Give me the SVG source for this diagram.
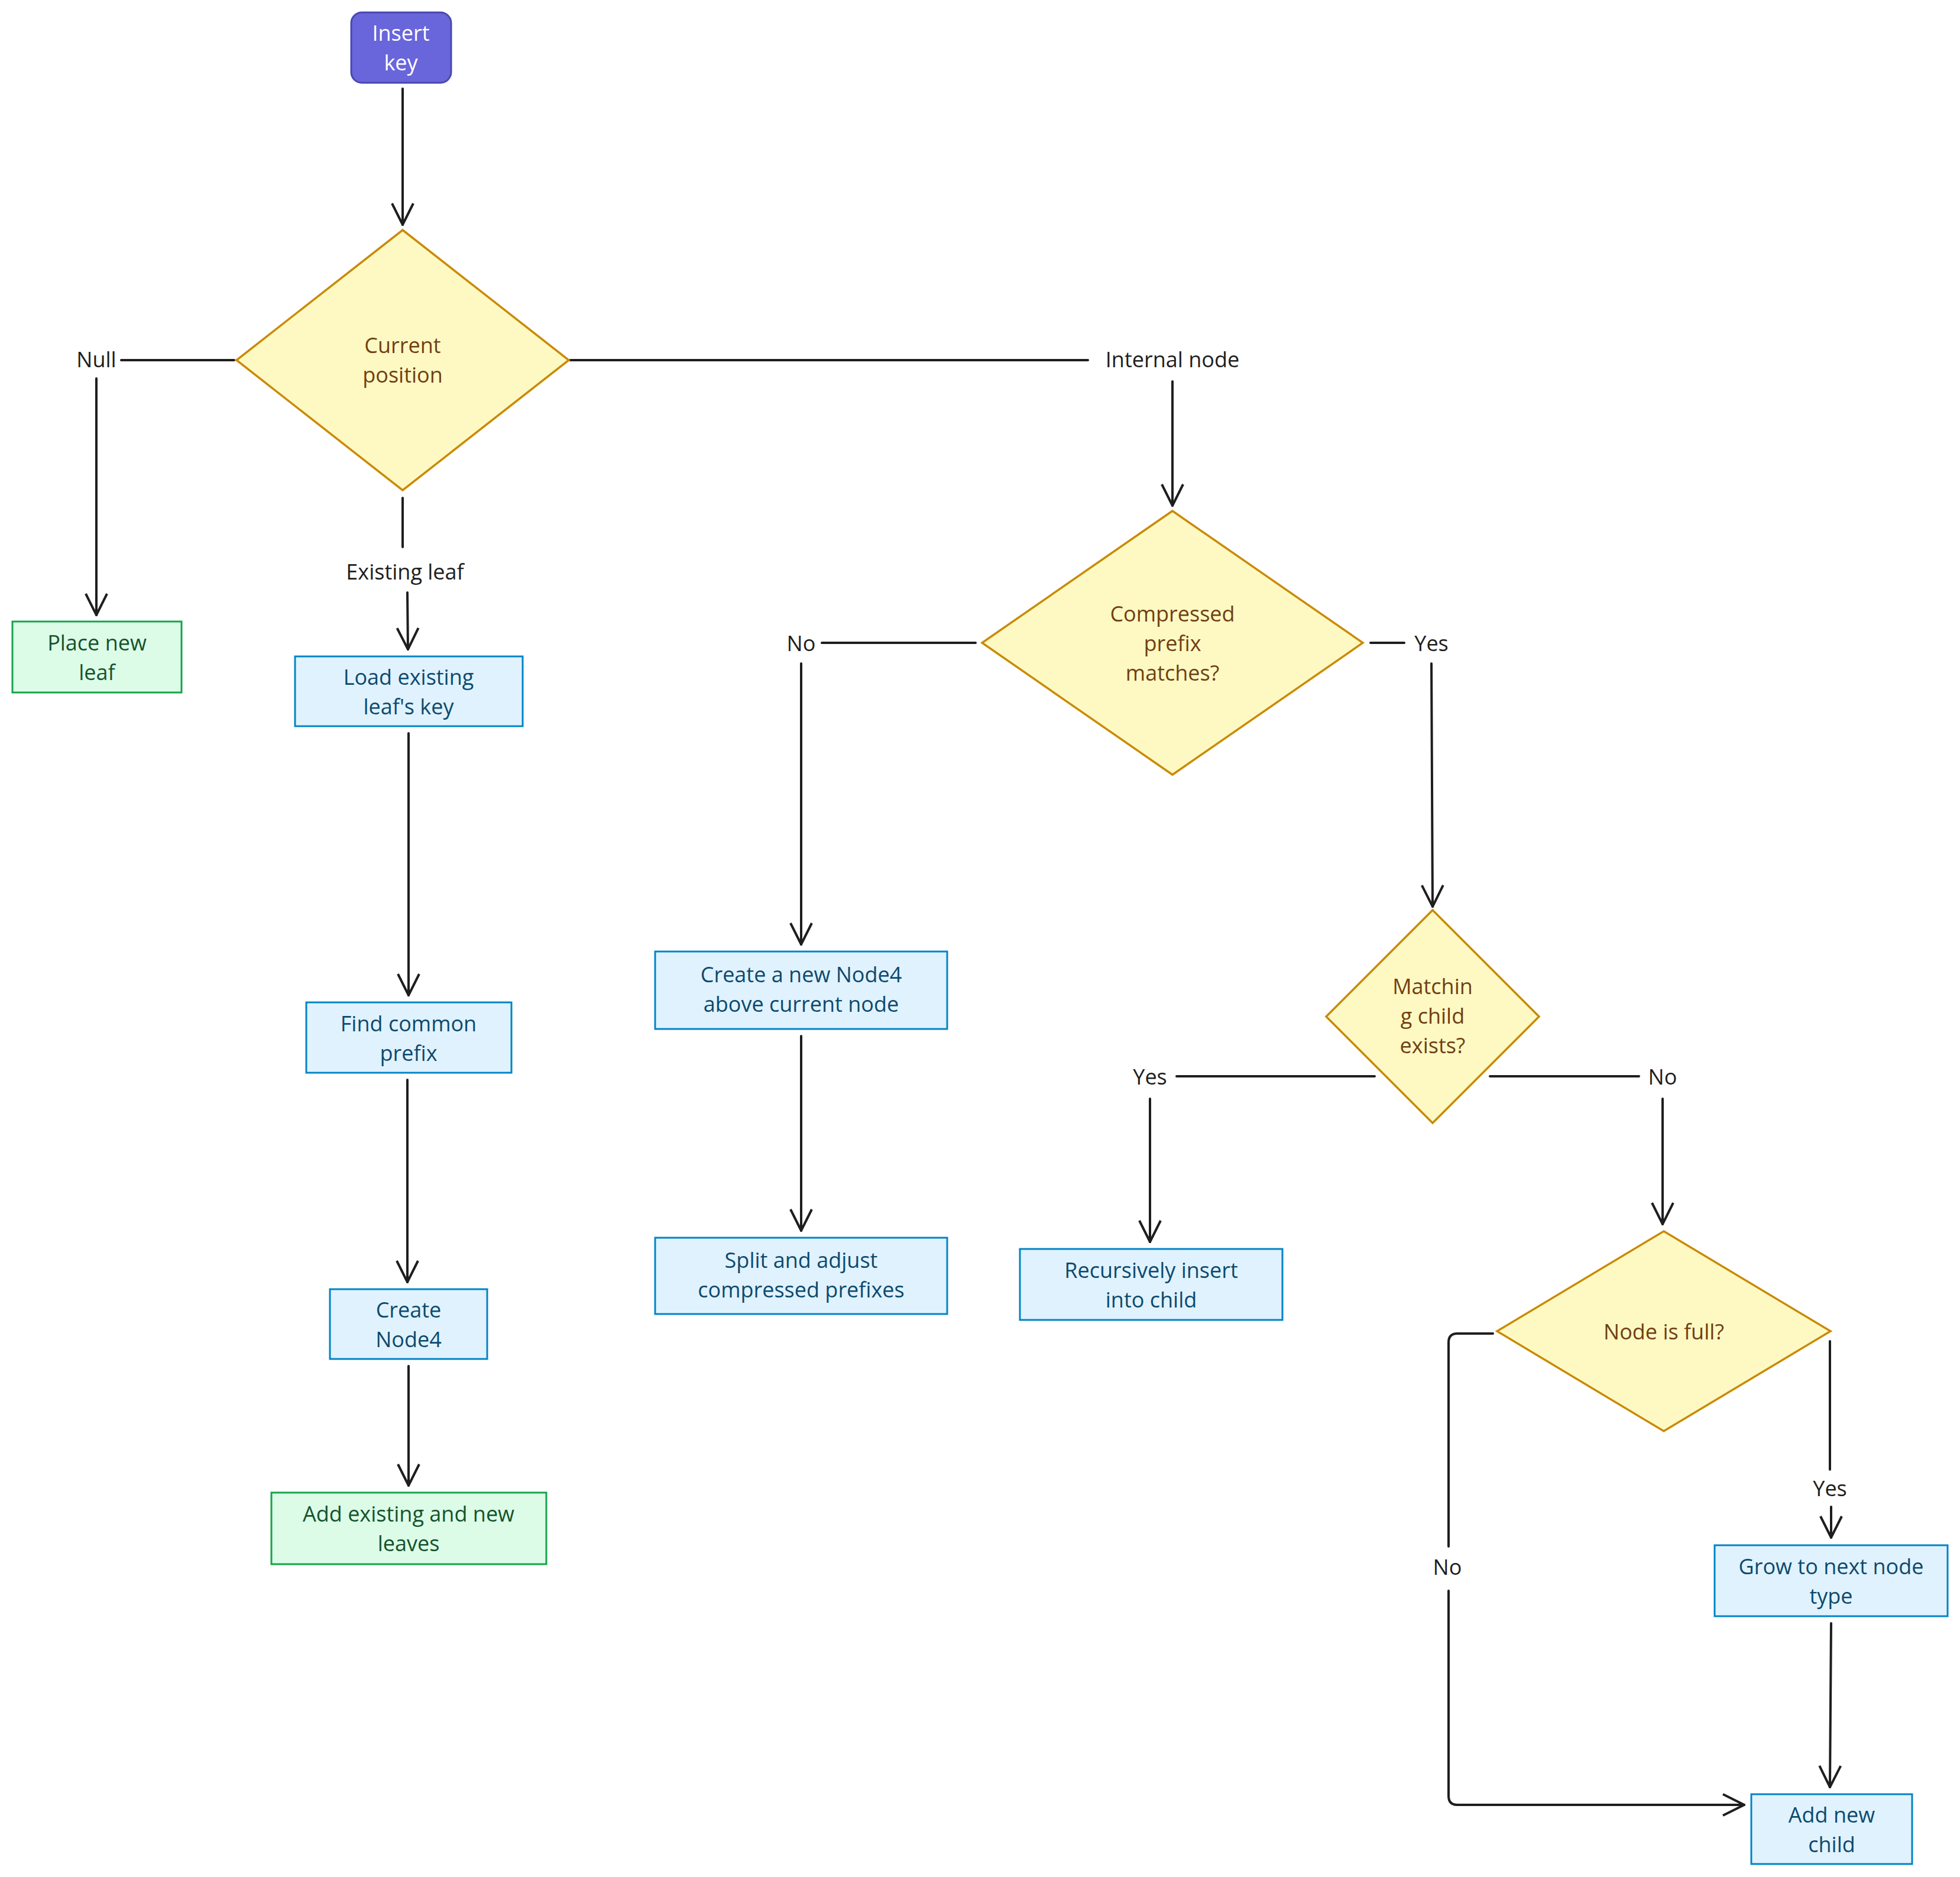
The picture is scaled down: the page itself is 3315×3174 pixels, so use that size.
<svg xmlns="http://www.w3.org/2000/svg" width="3315" height="3174" viewBox="0 0 3315 3174">
<style>
text{font-family:"Open Sans","Liberation Sans",sans-serif;font-size:36px;text-anchor:middle;dominant-baseline:central}
.blue rect{fill:#e0f2fe;stroke:#0284c7;stroke-width:3}
.blue text{fill:#0c4a6e}
.green rect{fill:#dcfce7;stroke:#16a34a;stroke-width:3}
.green text{fill:#14532d}
.dec polygon{fill:#fef9c3;stroke:#ca8a04;stroke-width:3.5}
.dec text{fill:#713f12}
.lbl{fill:#1e1e1e}
.c{fill:none;stroke:#1e1e1e;stroke-width:4;stroke-linecap:round}
</style>
<defs><marker id="a" viewBox="0 0 20 20" refX="18" refY="10" markerWidth="20" markerHeight="20" markerUnits="userSpaceOnUse" orient="auto"><path d="M0,0 L18,10 L0,20" fill="none" stroke="#1e1e1e" stroke-width="3"/></marker>
<marker id="b" viewBox="0 0 40 40" refX="38" refY="20" markerWidth="40" markerHeight="40" markerUnits="userSpaceOnUse" orient="auto"><path d="M2,2 L38,20 L2,38" fill="none" stroke="#1e1e1e" stroke-width="4"/></marker></defs>
<g id="connectors">
<path class="c" marker-end="url(#b)" d="M681,150 L681,380"/>
<path class="c" d="M396,609 L205,609"/>
<path class="c" marker-end="url(#b)" d="M163,640 L163,1040"/>
<path class="c" d="M681,842 L681,925"/>
<path class="c" marker-end="url(#b)" d="M689,1002 L690,1098"/>
<path class="c" d="M964,609 L1840,609"/>
<path class="c" marker-end="url(#b)" d="M1983,645 L1983,855"/>
<path class="c" d="M1650,1087 L1390,1087"/>
<path class="c" marker-end="url(#b)" d="M1355,1122 L1355,1597"/>
<path class="c" d="M2318,1087 L2375,1087"/>
<path class="c" marker-end="url(#b)" d="M2421,1122 L2423,1533"/>
<path class="c" marker-end="url(#b)" d="M691,1240 L691,1683"/>
<path class="c" marker-end="url(#b)" d="M689,1826 L689,2168"/>
<path class="c" marker-end="url(#b)" d="M691,2310 L691,2512"/>
<path class="c" marker-end="url(#b)" d="M1355,1752 L1355,2081"/>
<path class="c" d="M2325,1820 L1990,1820"/>
<path class="c" marker-end="url(#b)" d="M1945,1858 L1945,2100"/>
<path class="c" d="M2520,1820 L2772,1820"/>
<path class="c" marker-end="url(#b)" d="M2812,1858 L2812,2070"/>
<path class="c" d="M2525,2255 L2465,2255 Q2450,2255 2450,2270 L2450,2615"/>
<path class="c" marker-end="url(#b)" d="M2450,2690 L2450,3037 Q2450,3052 2465,3052 L2950,3052"/>
<path class="c" d="M3095,2268 L3095,2485"/>
<path class="c" marker-end="url(#b)" d="M3097,2548 L3097,2600"/>
<path class="c" marker-end="url(#b)" d="M3097,2745 L3095,3022"/>
</g>
<g class="lbl">
<text class="lbl" x="163" y="607">Null</text>
<text class="lbl" x="685" y="966">Existing leaf</text>
<text class="lbl" x="1983" y="607">Internal node</text>
<text class="lbl" x="1355" y="1087">No</text>
<text class="lbl" x="2421" y="1087">Yes</text>
<text class="lbl" x="1945" y="1820">Yes</text>
<text class="lbl" x="2812" y="1820">No</text>
<text class="lbl" x="3095" y="2516">Yes</text>
<text class="lbl" x="2448" y="2649">No</text>
</g>
<g id="insert"><rect x="594" y="21" width="169" height="119" rx="18" fill="#6965db" stroke="#4a47b1" stroke-width="3"/><text x="678" y="55" fill="#fff">Insert</text><text x="678" y="105" fill="#fff">key</text></g>
<g id="curpos" class="dec"><polygon points="681,389 962,609 681,829 400,609"/><text x="681" y="583">Current</text><text x="681" y="633">position</text></g>
<g id="placeleaf" class="green"><rect x="21" y="1051" width="286" height="120"/><text x="164" y="1086">Place new</text><text x="164" y="1136">leaf</text></g>
<g id="loadkey" class="blue"><rect x="499" y="1110" width="385" height="118"/><text x="691" y="1144">Load existing</text><text x="691" y="1194">leaf's key</text></g>
<g id="findprefix" class="blue"><rect x="518" y="1695" width="347" height="119"/><text x="691" y="1730">Find common</text><text x="691" y="1780">prefix</text></g>
<g id="createnode4" class="blue"><rect x="558" y="2180" width="266" height="118"/><text x="691" y="2214">Create</text><text x="691" y="2264">Node4</text></g>
<g id="addleaves" class="green"><rect x="459" y="2524" width="465" height="121"/><text x="691" y="2559">Add existing and new</text><text x="691" y="2609">leaves</text></g>
<g id="compressed" class="dec"><polygon points="1983,864 2305,1087 1983,1310 1661,1087"/><text x="1983" y="1037">Compressed</text><text x="1983" y="1087">prefix</text><text x="1983" y="1137">matches?</text></g>
<g id="newnode4" class="blue"><rect x="1108" y="1609" width="494" height="131"/><text x="1355" y="1647">Create a new Node4</text><text x="1355" y="1697">above current node</text></g>
<g id="split" class="blue"><rect x="1108" y="2093" width="494" height="129"/><text x="1355" y="2130">Split and adjust</text><text x="1355" y="2180">compressed prefixes</text></g>
<g id="matching" class="dec"><polygon points="2423,1539 2603,1719 2423,1899 2243,1719"/><text x="2423" y="1667">Matchin</text><text x="2423" y="1717">g child</text><text x="2423" y="1767">exists?</text></g>
<g id="recursive" class="blue"><rect x="1725" y="2112" width="444" height="120"/><text x="1947" y="2147">Recursively insert</text><text x="1947" y="2197">into child</text></g>
<g id="nodefull" class="dec"><polygon points="2814,2082 3096,2251 2814,2420 2532,2251"/><text x="2814" y="2251">Node is full?</text></g>
<g id="grow" class="blue"><rect x="2900" y="2613" width="394" height="120"/><text x="3097" y="2648">Grow to next node</text><text x="3097" y="2698">type</text></g>
<g id="addchild" class="blue"><rect x="2962" y="3034" width="272" height="118"/><text x="3098" y="3068">Add new</text><text x="3098" y="3118">child</text></g>
</svg>
